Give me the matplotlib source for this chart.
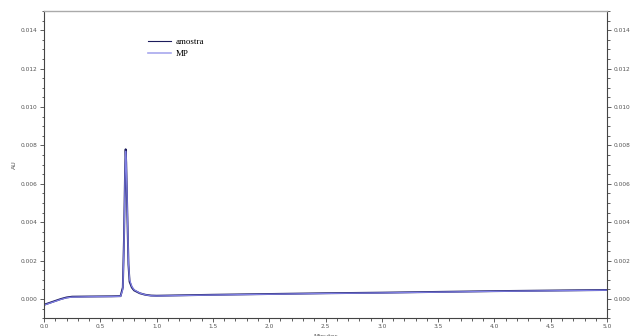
import numpy as np
from matplotlib import pyplot as plt
from matplotlib.ticker import MultipleLocator

tempo = [0.0, 0.05, 0.1, 0.15, 0.2, 0.25, 0.4, 0.6, 0.68, 0.70, 0.71, 0.72,
         0.725, 0.73, 0.74, 0.75, 0.76, 0.78, 0.80, 0.85, 0.9, 0.95, 1.0,
         1.5, 2.0, 2.5, 3.0, 3.5, 4.0, 4.5, 5.0]
amostra = [-0.0003, -0.0002, -0.0001, 0.0, 0.00008, 0.00012, 0.00013, 0.00014,
           0.00015, 0.0006, 0.003, 0.0066, 0.0078, 0.0071, 0.0044, 0.0018,
           0.0009, 0.0006, 0.00045, 0.0003, 0.00022, 0.00018, 0.00017,
           0.00022, 0.00026, 0.0003, 0.00033, 0.00037, 0.00041, 0.00044, 0.00047]
mp = [-0.00032, -0.00022, -0.00012, -0.00002, 0.00006, 0.0001, 0.00012, 0.00013,
      0.00014, 0.0005, 0.0028, 0.0064, 0.0077, 0.0072, 0.0046, 0.0019,
      0.001, 0.00065, 0.00048, 0.00031, 0.00022, 0.00017, 0.00016,
      0.00021, 0.00025, 0.00029, 0.00032, 0.00036, 0.0004, 0.00043, 0.00046]

fig = plt.figure(figsize=(6.32, 3.36), dpi=100)
ax = fig.add_axes([0.0696, 0.053, 0.891, 0.914])

ax.plot(tempo, amostra, color='#1c1c5c', linewidth=1.4, label='amostra')
ax.plot(tempo, mp, color='#8080e6', linewidth=0.9, label='MP')

ax.set_xlim(0, 5.0)
ax.set_ylim(-0.001, 0.015)
ax.set_xticks(np.arange(0, 5.01, 0.5))
ax.set_yticks(np.arange(0, 0.0141, 0.002))
ax.xaxis.set_minor_locator(MultipleLocator(0.1))
ax.yaxis.set_minor_locator(MultipleLocator(0.0005))
ax.xaxis.set_major_formatter(plt.FuncFormatter(lambda v, p: f'{v:.1f}'))
ax.yaxis.set_major_formatter(plt.FuncFormatter(lambda v, p: f'{v:.3f}'))

ax.tick_params(axis='both', which='both', direction='out', labelsize=4.2,
               labelcolor='#555555', color='#444444', width=0.6, pad=1.5)
ax.tick_params(which='major', length=3)
ax.tick_params(which='minor', length=1.8)
ax.tick_params(axis='y', which='both', right=True, labelright=True)

for s in ['left', 'right', 'bottom']:
    ax.spines[s].set_color('#444444')
    ax.spines[s].set_linewidth(0.8)
ax.spines['top'].set_color('#aaaaaa')
ax.spines['top'].set_linewidth(1.0)

ax.set_ylabel('AU', fontsize=4.5, color='#555555', labelpad=3)
ax.set_xlabel('Minutes', fontsize=4.5, color='#555555', labelpad=3)

leg = ax.legend(loc='upper left', bbox_to_anchor=(0.17, 0.94), frameon=False,
                prop={'family': 'Liberation Serif', 'size': 6.5}, handlelength=2.6,
                labelspacing=0.45, handletextpad=0.5)
leg.get_lines()[0].set_linewidth(0.8)
leg.get_lines()[1].set_linewidth(1.2)
leg.get_lines()[1].set_color('#a8a8ee')

plt.savefig('out.png', dpi=100)
